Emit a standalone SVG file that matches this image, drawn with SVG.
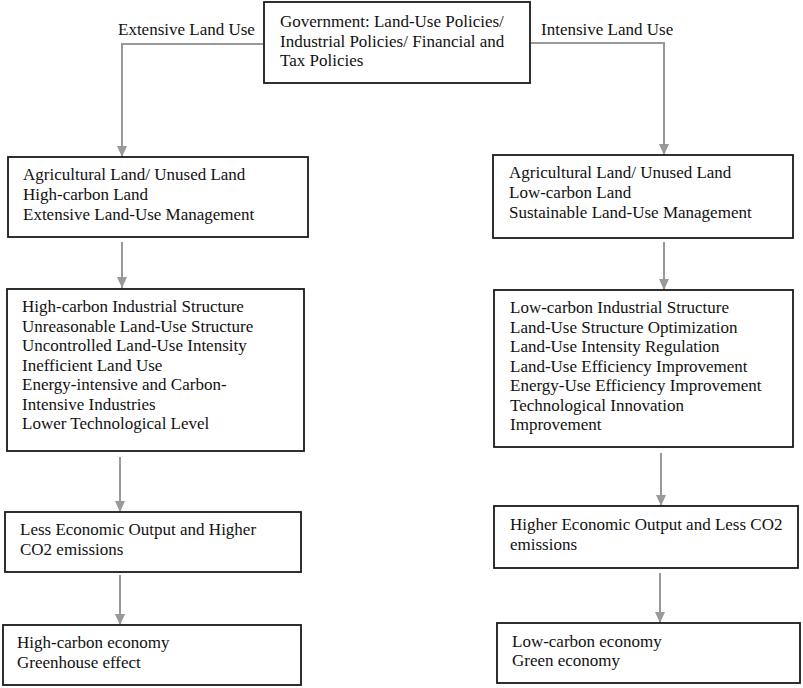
<svg xmlns="http://www.w3.org/2000/svg" width="803" height="688" viewBox="0 0 803 688">
<style>
.box{fill:#fff;stroke:#1a1a1a;stroke-width:1.8}
.t{font-family:"Liberation Serif","Times New Roman",serif;font-size:17px;fill:#111}
.c{fill:none;stroke:#999;stroke-width:2}
</style>
<defs>
<marker id="ah" markerUnits="userSpaceOnUse" markerWidth="12" markerHeight="12" viewBox="0 0 12 12" refX="11" refY="6" orient="auto">
<path d="M0,1 L11,6 L0,11 Z" fill="#999"/>
</marker>
</defs>
<rect width="803" height="688" fill="#fff"/>
<g id="connectors">
<polyline class="c" points="263,44 122,44 122,157" marker-end="url(#ah)"/>
<polyline class="c" points="531,43 664,43 664,155" marker-end="url(#ah)"/>
<line class="c" x1="122" y1="242" x2="122" y2="288" marker-end="url(#ah)"/>
<line class="c" x1="120" y1="457" x2="120" y2="512" marker-end="url(#ah)"/>
<line class="c" x1="120" y1="575" x2="120" y2="625" marker-end="url(#ah)"/>
<line class="c" x1="664" y1="242" x2="664" y2="290" marker-end="url(#ah)"/>
<line class="c" x1="661" y1="453" x2="661" y2="506" marker-end="url(#ah)"/>
<line class="c" x1="660" y1="573" x2="660" y2="623" marker-end="url(#ah)"/>
<text class="t" x="118" y="35">Extensive Land Use</text>
<text class="t" x="541" y="35">Intensive Land Use</text>
</g>
<g id="gov">
<rect class="box" x="264" y="2" width="266" height="81"/>
<text class="t" x="280" y="27">Government: Land-Use Policies/</text>
<text class="t" x="280" y="46.5">Industrial Policies/ Financial and</text>
<text class="t" x="280" y="66">Tax Policies</text>
</g>
<g id="left1">
<rect class="box" x="8" y="157" width="300" height="80"/>
<text class="t" x="23" y="180">Agricultural Land/ Unused Land</text>
<text class="t" x="23" y="200">High-carbon Land</text>
<text class="t" x="23" y="220">Extensive Land-Use Management</text>
</g>
<g id="left2">
<rect class="box" x="7" y="289" width="297" height="162"/>
<text class="t" x="22" y="312">High-carbon Industrial Structure</text>
<text class="t" x="22" y="331.5">Unreasonable Land-Use Structure</text>
<text class="t" x="22" y="351">Uncontrolled Land-Use Intensity</text>
<text class="t" x="22" y="370.5">Inefficient Land Use</text>
<text class="t" x="22" y="390">Energy-intensive and Carbon-</text>
<text class="t" x="22" y="409.5">Intensive Industries</text>
<text class="t" x="22" y="429">Lower Technological Level</text>
</g>
<g id="left3">
<rect class="box" x="5" y="512" width="296" height="60"/>
<text class="t" x="20" y="535">Less Economic Output and Higher</text>
<text class="t" x="20" y="555">CO2 emissions</text>
</g>
<g id="left4">
<rect class="box" x="3" y="625" width="298" height="60"/>
<text class="t" x="17" y="648">High-carbon economy</text>
<text class="t" x="17" y="668">Greenhouse effect</text>
</g>
<g id="right1">
<rect class="box" x="493" y="155" width="300" height="83"/>
<text class="t" x="509" y="178">Agricultural Land/ Unused Land</text>
<text class="t" x="509" y="198">Low-carbon Land</text>
<text class="t" x="509" y="218">Sustainable Land-Use Management</text>
</g>
<g id="right2">
<rect class="box" x="494" y="290" width="299" height="157"/>
<text class="t" x="510" y="313">Low-carbon Industrial Structure</text>
<text class="t" x="510" y="332.5">Land-Use Structure Optimization</text>
<text class="t" x="510" y="352">Land-Use Intensity Regulation</text>
<text class="t" x="510" y="371.5">Land-Use Efficiency Improvement</text>
<text class="t" x="510" y="391">Energy-Use Efficiency Improvement</text>
<text class="t" x="510" y="410.5">Technological Innovation</text>
<text class="t" x="510" y="430">Improvement</text>
</g>
<g id="right3">
<rect class="box" x="494" y="506" width="304" height="62"/>
<text class="t" x="510" y="530">Higher Economic Output and Less CO2</text>
<text class="t" x="510" y="550">emissions</text>
</g>
<g id="right4">
<rect class="box" x="497" y="623" width="303" height="60"/>
<text class="t" x="512" y="647">Low-carbon economy</text>
<text class="t" x="512" y="666">Green economy</text>
</g>
</svg>
